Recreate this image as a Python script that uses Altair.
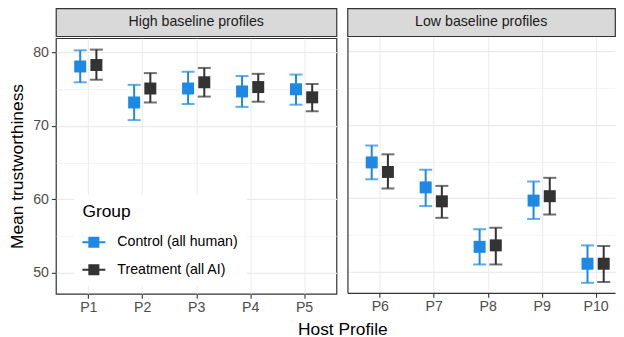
import altair as alt
import pandas as pd

profiles = ["P1", "P2", "P3", "P4", "P5", "P6", "P7", "P8", "P9", "P10"]
panels = ["High baseline profiles"] * 5 + ["Low baseline profiles"] * 5
groups = ["Control (all human)", "Treatment (all AI)"]
colors = ["#1E88E5", "#333333"]

control_mean = [78.1, 73.2, 75.1, 74.7, 75.0, 64.9, 61.5, 53.4, 59.7, 51.1]
control_lo = [75.95, 70.8, 73.0, 72.6, 72.9, 62.6, 58.95, 51.0, 57.2, 48.5]
control_hi = [80.3, 75.6, 77.4, 76.8, 77.0, 67.2, 63.9, 55.8, 62.3, 53.6]
treat_mean = [78.3, 75.1, 75.95, 75.3, 73.9, 63.6, 59.6, 53.6, 60.3, 51.1]
treat_lo = [76.3, 73.2, 74.0, 73.3, 72.0, 61.35, 57.35, 51.0, 57.8, 48.6]
treat_hi = [80.4, 77.2, 77.9, 77.1, 75.7, 66.0, 61.7, 56.0, 62.8, 53.5]

y_ticks = [50, 55, 60, 65, 70, 75, 80]
x_ticks = [1, 2, 3, 4, 5]

rows = []
for i, p in enumerate(profiles):
    for g, m, lo, hi in [
        (groups[0], control_mean[i], control_lo[i], control_hi[i]),
        (groups[1], treat_mean[i], treat_lo[i], treat_hi[i]),
    ]:
        rows.append(dict(profile=p, idx=i % 5 + 1, panel=panels[i], group=g,
                         mean=m, lo=lo, hi=hi))
df = pd.DataFrame(rows)

FONT = "Liberation Sans"
TXT = 14.2
TTL = 17.4
DODGE = 0.15
STEP = 281 / 5.2
YDOM = [47.14, 81.95]

color = alt.Color(
    "group:N",
    scale=alt.Scale(domain=groups, range=colors),
    legend=alt.Legend(
        title="Group", orient="none", legendX=18, legendY=187,
        fillColor="white", padding=8.5, titleFontSize=TTL, titleFontWeight="normal",
        titleColor="#000000", titleFont=FONT, titlePadding=10,
        labelFontSize=TXT, labelFont=FONT, labelColor="#000000",
        symbolType="M-1,-0.09H1V0.09H-1Z M-0.48,-0.48H0.48V0.48H-0.48Z",
        symbolSize=529, symbolStrokeWidth=0, symbolOpacity=1,
        rowPadding=8.5, labelOffset=12,
    ),
)


def panel(name, width, offset, left):
    dom = [0.4, 0.4 + width / STEP]
    base = alt.Chart(df).transform_filter(alt.datum.panel == name).transform_calculate(
        xpos=f"datum.idx + (datum.group == '{groups[0]}' ? -{DODGE} : {DODGE})"
    )
    xaxis = alt.Axis(
        values=x_ticks, labelExpr=f"'P' + (datum.value + {offset})",
        title=None, labelFontSize=TXT, labelColor="#4D4D4D",
        tickSize=4.5, labelPadding=2.5, grid=True, domain=not left,
    )
    yaxis = alt.Axis(
        values=y_ticks,
        labelExpr="datum.value % 10 == 0 ? datum.label : ''",
        title="Mean trustworthiness" if left else None,
        titleFontSize=TTL, titleFontWeight="normal", titleColor="#000000",
        titlePadding=6,
        labels=left, ticks=left, domain=not left,
        tickOpacity={"condition": {"test": "datum.value % 10 != 0", "value": 0}, "value": 1},
        gridWidth={"condition": {"test": "datum.value % 10 != 0", "value": 0.6}, "value": 1.2},
        labelFontSize=TXT, labelColor="#4D4D4D", tickSize=4.5, labelPadding=3,
    )
    x = alt.X("xpos:Q", scale=alt.Scale(domain=dom, nice=False, zero=False), axis=xaxis)
    y = alt.Y("mean:Q", scale=alt.Scale(domain=YDOM, nice=False, zero=False), axis=yaxis)
    rule = base.mark_rule(strokeWidth=2).encode(x=x, y=alt.Y("lo:Q"), y2="hi:Q", color=color)
    cap_lo = base.mark_tick(orient="horizontal", size=13, thickness=2).encode(
        x=x, y=alt.Y("lo:Q"), color=color)
    cap_hi = base.mark_tick(orient="horizontal", size=13, thickness=2).encode(
        x=x, y=alt.Y("hi:Q"), color=color)
    pts = base.mark_point(shape="square", filled=True, size=144, opacity=1).encode(
        x=x, y=y, color=color)
    view = alt.ViewBackground(fill="white", stroke="#333333" if left else None, strokeWidth=1.2)
    main = alt.layer(rule, cap_lo, cap_hi, pts).properties(width=width, height=256, view=view)
    strip = alt.Chart(pd.DataFrame({"label": [name]})).mark_text(
        font=FONT, fontSize=TXT, color="#1A1A1A"
    ).encode(text="label:N").properties(
        width=width, height=28,
        view=alt.ViewBackground(fill="#D9D9D9", stroke="#333333", strokeWidth=1.2),
    )
    return alt.vconcat(strip, main, spacing=0)


chart = alt.hconcat(
    panel("High baseline profiles", 281, 0, True),
    panel("Low baseline profiles", 268, 5, False),
    spacing=9,
).properties(
    padding={"left": 0, "top": -1, "right": 0, "bottom": 0},
    title=alt.TitleParams(
        text="Host Profile", orient="bottom", anchor="middle", fontSize=TTL,
        fontWeight="normal", color="#000000", font=FONT, offset=5, dx=31,
    ),
).configure(
    font=FONT
).configure_axis(
    labelFont=FONT, titleFont=FONT, gridColor="#EBEBEB", tickColor="#333333",
    domainColor="#333333", domainWidth=1.2, tickWidth=1.1,
)

chart.save("out.html", embed_options={"renderer": "svg", "actions": False})
